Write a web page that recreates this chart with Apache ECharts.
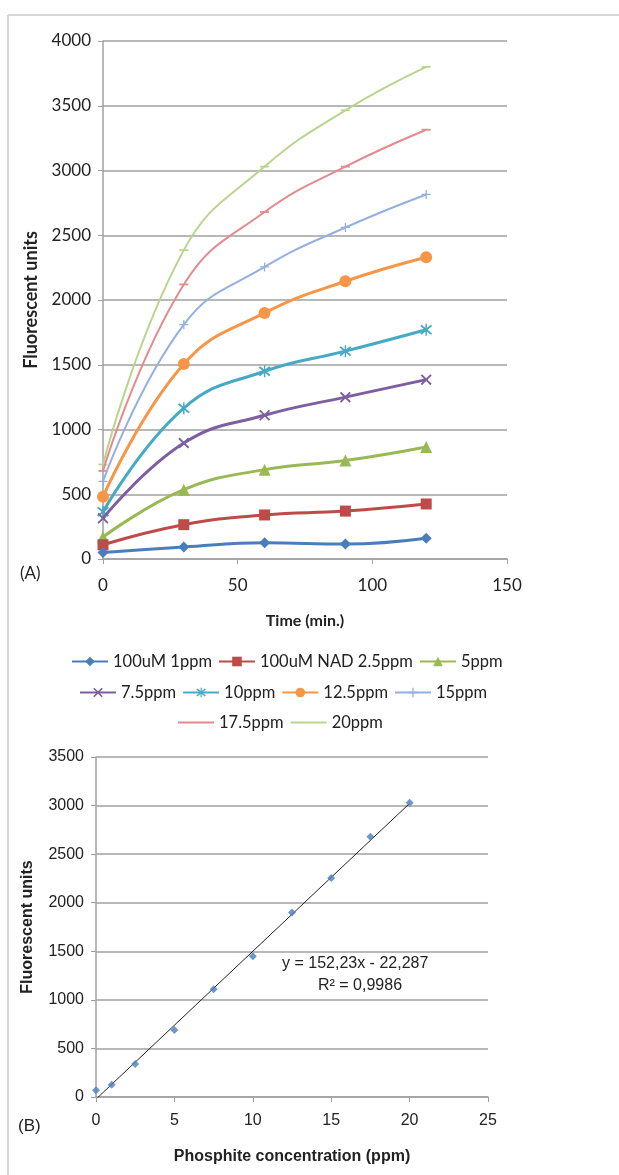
<!DOCTYPE html>
<html><head><meta charset="utf-8">
<script src="https://cdn.jsdelivr.net/npm/echarts@6/dist/echarts.min.js"></script>
<style>html,body{margin:0;padding:0;background:#fff;}#c{width:619px;height:1175px;}</style>
</head><body><div id="c"></div>
<script>
// ---- Data (A): fluorescence over time ----
const times = [0, 30, 60, 90, 120];
const seriesNames = ['100uM 1ppm','100uM NAD 2.5ppm','5ppm','7.5ppm','10ppm','12.5ppm','15ppm','17.5ppm','20ppm'];
const s1ppm   = [50, 93, 125, 115, 160];
const s2_5ppm = [110, 265, 340, 370, 425];
const s5ppm   = [170, 535, 690, 760, 865];
const s7_5ppm = [315, 895, 1110, 1250, 1385];
const s10ppm  = [365, 1165, 1450, 1605, 1770];
const s12_5ppm= [480, 1505, 1900, 2145, 2330];
const s15ppm  = [600, 1810, 2255, 2560, 2815];
const s17_5ppm= [680, 2120, 2680, 3030, 3315];
const s20ppm  = [730, 2385, 3030, 3465, 3800];
const xTicksA = [0, 50, 100, 150];
// ---- Data (B): calibration ----
const conc  = [0, 1, 2.5, 5, 7.5, 10, 12.5, 15, 17.5, 20];
const fluor = [70, 125, 340, 690, 1110, 1450, 1900, 2255, 2680, 3030];
const slope = 152.23, intercept = -22.287;
const fitRange = [0, 20];

const allA = [s1ppm, s2_5ppm, s5ppm, s7_5ppm, s10ppm, s12_5ppm, s15ppm, s17_5ppm, s20ppm];
const colors = ['#4a7ebb','#be4b48','#98b954','#7d5fa0','#46aac4','#f79646','#94afe0','#e38b8d','#b9d58c'];
const X = 'path://M0,1.2 L1.2,0 L5,3.8 L8.8,0 L10,1.2 L6.2,5 L10,8.8 L8.8,10 L5,6.2 L1.2,10 L0,8.8 L3.8,5 Z';
const AST = X + ' M4.4,-1 L5.6,-1 L5.6,11 L4.4,11 Z';
const PLUS = 'path://M4.3,0 H5.7 V4.3 H10 V5.7 H5.7 V10 H4.3 V5.7 H0 V4.3 H4.3 Z';
const DASH = 'path://M0,0 H10 V2 H0 Z';
const symbols = ['diamond','rect','triangle',X,AST,'circle',PLUS,DASH,DASH];
const symSizes = [11,11,12,11,12,12,9,9,9];
const widths = [3,3,3,3,3,3,2,2,2];

const fontA = 'Lato, "Open Sans", sans-serif';
const fontB = '"Liberation Sans", Arial, sans-serif';
const gridColor = '#a0a0a0';
const plain = v => String(v);

const series = allA.map((d, i) => ({
  name: seriesNames[i], type: 'line', xAxisIndex: 0, yAxisIndex: 0,
  data: times.map((t, k) => [t, d[k]]),
  smooth: 0.45, symbol: symbols[i], symbolSize: symSizes[i], showSymbol: true,
  symbolKeepAspect: i >= 7,
  lineStyle: { width: widths[i], color: colors[i] },
  itemStyle: { color: colors[i] },
  z: 10 - i
}));
series.push({
  name: 'fit', type: 'line', xAxisIndex: 1, yAxisIndex: 1,
  data: fitRange.map(x => [x, slope * x + intercept]),
  symbol: 'none', lineStyle: { color: '#222', width: 1 }, z: 5, silent: true
});
series.push({
  name: 'points', type: 'scatter', xAxisIndex: 1, yAxisIndex: 1,
  data: conc.map((c, k) => [c, fluor[k]]),
  symbol: 'diamond', symbolSize: 8, itemStyle: { color: '#4a7ebb' }, z: 6
});

const legendBase = {
  itemWidth: 36, itemHeight: 12, itemGap: 6,
  textStyle: { fontFamily: fontA, fontSize: 16.5, color: '#222' }
};
const noMark = name => ({ name: name, itemStyle: { opacity: 0 } });

const option = {
  animation: false,
  backgroundColor: '#fff',
  graphic: [
    { type: 'line', shape: { x1: 8, y1: 15, x2: 619, y2: 15 }, style: { stroke: '#d6d6d6', lineWidth: 2 } },
    { type: 'line', shape: { x1: 8, y1: 15, x2: 8, y2: 1175 }, style: { stroke: '#d6d6d6', lineWidth: 2 } },
    { type: 'text', left: 20, top: 565, style: { text: '(A)', font: '17px ' + fontA, fill: '#222' } },
    { type: 'text', left: 18, top: 1118, style: { text: '(B)', font: '17px ' + fontB, fill: '#222' } },
    { type: 'text', left: 282, top: 956, style: { text: 'y = 152,23x - 22,287', font: '16px ' + fontB, fill: '#222' } },
    { type: 'text', left: 318, top: 978, style: { text: 'R² = 0,9986', font: '16px ' + fontB, fill: '#222' } }
  ],
  legend: [
    Object.assign({}, legendBase, { data: seriesNames.slice(0, 3), left: 66, top: 648 }),
    Object.assign({}, legendBase, { data: seriesNames.slice(3, 7), left: 74, top: 679 }),
    Object.assign({}, legendBase, { data: seriesNames.slice(7, 9).map(noMark), left: 172, top: 709 })
  ],
  grid: [
    { left: 103, top: 41, width: 404, height: 518 },
    { left: 96, top: 757, width: 392, height: 340 }
  ],
  xAxis: [
    { type: 'value', gridIndex: 0, min: xTicksA[0], max: xTicksA[xTicksA.length - 1], interval: 50,
      name: 'Time (min.)', nameLocation: 'middle', nameGap: 54,
      nameTextStyle: { fontFamily: fontA, fontSize: 16, fontWeight: 'bold', color: '#222' },
      axisLine: { show: true, lineStyle: { color: gridColor, width: 1.5 } },
      axisTick: { show: true, length: 5, lineStyle: { color: gridColor } },
      axisLabel: { fontFamily: fontA, fontSize: 17, color: '#222', margin: 18, formatter: plain },
      splitLine: { show: false } },
    { type: 'value', gridIndex: 1, min: 0, max: 25, interval: 5,
      name: 'Phosphite concentration (ppm)', nameLocation: 'middle', nameGap: 52,
      nameTextStyle: { fontFamily: fontB, fontSize: 16, fontWeight: 'bold', color: '#222' },
      axisLine: { show: true, lineStyle: { color: gridColor, width: 1.5 } },
      axisTick: { show: true, length: 5, lineStyle: { color: gridColor } },
      axisLabel: { fontFamily: fontB, fontSize: 16, color: '#222', margin: 16, formatter: plain },
      splitLine: { show: false } }
  ],
  yAxis: [
    { type: 'value', gridIndex: 0, min: 0, max: 4000, interval: 500,
      name: 'Fluorescent units', nameLocation: 'middle', nameGap: 58,
      nameTextStyle: { fontFamily: fontA, fontSize: 18, fontWeight: 'bold', color: '#222' },
      axisLine: { show: true, lineStyle: { color: gridColor, width: 1.5 } },
      axisTick: { show: true, length: 5, lineStyle: { color: gridColor } },
      axisLabel: { fontFamily: fontA, fontSize: 17, color: '#222', margin: 12, formatter: plain },
      splitLine: { show: true, lineStyle: { color: gridColor, width: 1.5 } } },
    { type: 'value', gridIndex: 1, min: 0, max: 3500, interval: 500,
      name: 'Fluorescent units', nameLocation: 'middle', nameGap: 60,
      nameTextStyle: { fontFamily: fontB, fontSize: 16, fontWeight: 'bold', color: '#222' },
      axisLine: { show: true, lineStyle: { color: gridColor, width: 1.5 } },
      axisTick: { show: true, length: 5, lineStyle: { color: gridColor } },
      axisLabel: { fontFamily: fontB, fontSize: 16, color: '#222', margin: 12, formatter: plain },
      splitLine: { show: true, lineStyle: { color: gridColor, width: 1.5 } } }
  ],
  series: series
};
const chart = echarts.init(document.getElementById('c'), null, { renderer: 'canvas' });
chart.setOption(option);
</script></body></html>
